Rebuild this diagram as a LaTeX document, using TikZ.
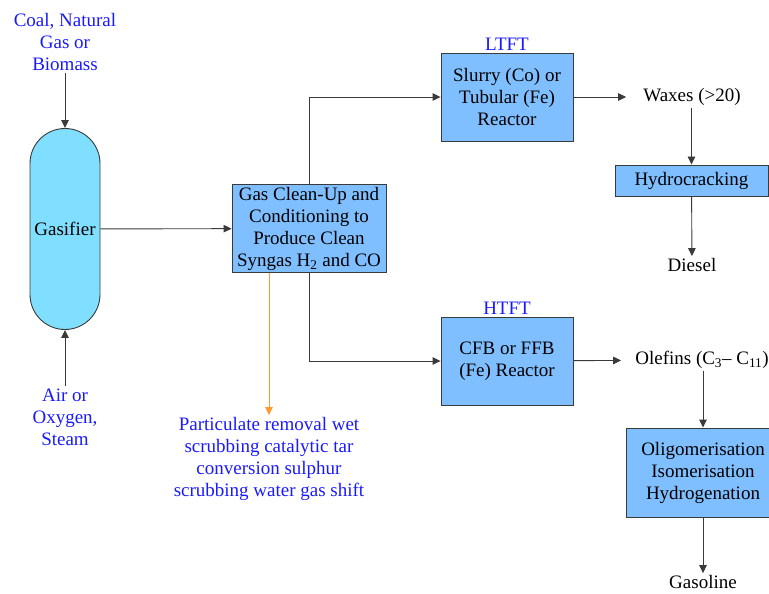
\documentclass[tikz,border=0pt]{standalone}
\usepackage{fontspec}
\setmainfont{LiberationSerif}[Extension=.ttf, UprightFont=*-Regular, BoldFont=*-Bold, ItalicFont=*-Italic, BoldItalicFont=*-BoldItalic]
\usetikzlibrary{arrows.meta}

\definecolor{vesselfill}{HTML}{80DFFF}
\definecolor{boxfill}{HTML}{80BFFF}
\definecolor{linegray}{HTML}{3A3A3A}
\definecolor{labelblue}{HTML}{1A1AFF}
\definecolor{pipeorange}{HTML}{FF9933}

\tikzset{
    txt/.style={font=\fontsize{19bp}{22bp}\selectfont, align=center, inner sep=2bp},
    bluetxt/.style={txt, text=labelblue},
    unit/.style={txt, draw=linegray, fill=boxfill, line width=0.9bp},
    arr/.style={draw=linegray, line width=0.9bp, -{Triangle[length=8bp,width=7.5bp]}}
}

\begin{document}
\begin{tikzpicture}[x=1bp,y=-1bp]
    \path[use as bounding box, clip] (0,0) rectangle (769,594);

    % Gasifier with its feeds
    \node[unit, fill=vesselfill, rounded corners=35bp, minimum width=70bp, minimum height=201bp] (gasifier) at (65,229) {Gasifier};
    \node[bluetxt] (feed) at (65,42) {Coal, Natural\\Gas or\\Biomass};
    \node[bluetxt] (air) at (65,417) {Air or\\Oxygen,\\Steam};
    \draw[arr] (feed) -- (gasifier);
    \draw[arr] (air) -- (gasifier);

    % Gas clean-up
    \node[unit, minimum width=154bp, minimum height=87bp] (cleanup) at (309,228.5) {Gas Clean-Up and\\Conditioning to\\Produce Clean\\Syngas H\textsubscript{2} and CO};
    \draw[arr] (gasifier) -- (cleanup);
    \node[bluetxt] (steps) at (269,459) {Particulate removal wet\\scrubbing catalytic tar\\conversion sulphur\\scrubbing water gas shift};
    \draw[arr, draw=pipeorange, fill=pipeorange] (cleanup.south -| steps.north) -- (steps.north);

    % Low temperature route
    \node[unit, minimum width=132bp, minimum height=88bp] (ltft) at (507,97) {Slurry (Co) or\\Tubular (Fe)\\Reactor};
    \node[bluetxt, above] (ltftlabel) at (ltft.north) {LTFT};
    \draw[arr] (cleanup.north) |- (ltft.west);
    \node[txt] (waxes) at (692,97) {Waxes (>20)};
    \draw[arr, shorten >=15bp] (ltft) -- (waxes);
    \node[unit, minimum width=153bp, minimum height=31bp] (hydrocrack) at (691.5,180.5) {Hydrocracking};
    \draw[arr] (waxes.south -| hydrocrack.north) -- (hydrocrack.north);
    \node[txt] (diesel) at (692,265) {Diesel};
    \draw[arr] (hydrocrack) -- (diesel);

    % High temperature route
    \node[unit, minimum width=132bp, minimum height=88bp] (htft) at (507,361) {CFB or FFB\\(Fe) Reactor};
    \node[bluetxt, above] (htftlabel) at (htft.north) {HTFT};
    \draw[arr] (cleanup.south) |- (htft.west);
    \node[txt] (olefins) at (702,360) {Olefins (C\textsubscript{3}– C\textsubscript{11})};
    \draw[arr, shorten >=12bp] (htft) -- (olefins);
    \node[unit, minimum width=154bp, minimum height=89bp] (upgrade) at (703,472.5) {Oligomerisation\\Isomerisation\\Hydrogenation};
    \draw[arr] (olefins.south -| upgrade.north) -- (upgrade.north);
    \node[txt] (gasoline) at (703,582) {Gasoline};
    \draw[arr] (upgrade) -- (gasoline);
\end{tikzpicture}
\end{document}
